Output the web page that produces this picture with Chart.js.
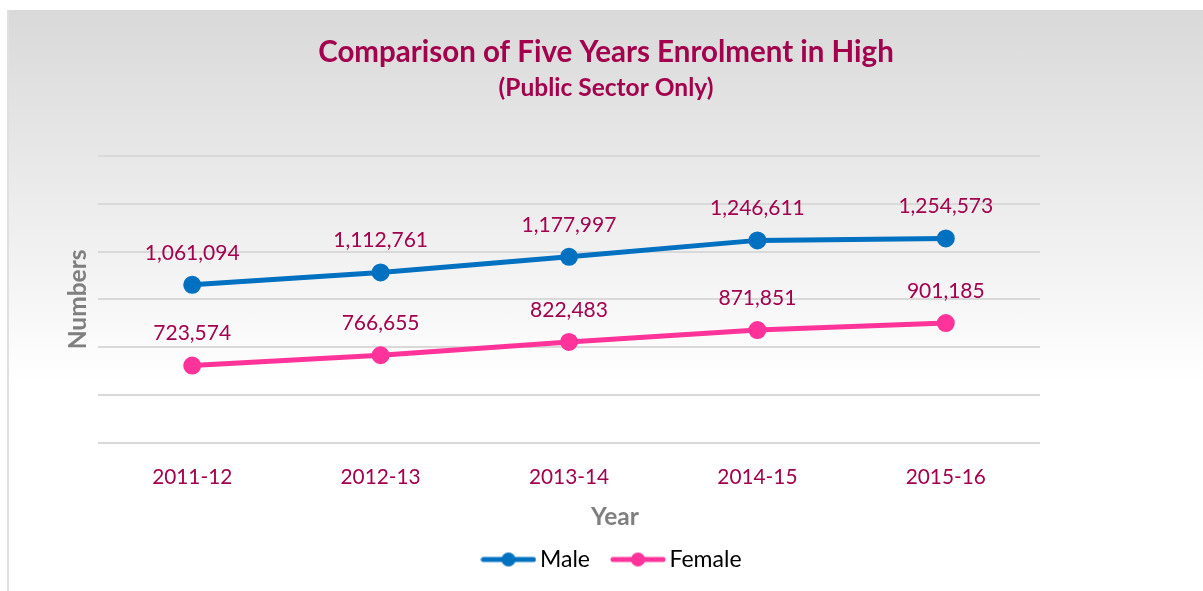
<!DOCTYPE html>
<html>
<head>
<meta charset="utf-8">
<script src="https://cdn.jsdelivr.net/npm/chart.js@4"></script>
<style>
  html, body { margin: 0; padding: 0; background: #fff; }
  #frame {
    position: absolute; left: 7px; top: 10px; width: 1196px; height: 581px;
    background: linear-gradient(to bottom, #d9d9d9 0%, #f3f3f3 45%, #ffffff 64%, #ffffff 100%);
    border-left: 2px solid #e0e0e0;
    box-sizing: border-box;
  }
  #wrap { position: absolute; left: 0; top: 0; width: 1194px; height: 581px; }
</style>
</head>
<body>
<div id="frame"><div id="wrap"><canvas id="chart"></canvas></div></div>
<script>
const years = ['2011-12', '2012-13', '2013-14', '2014-15', '2015-16'];
const male = [1061094, 1112761, 1177997, 1246611, 1254573];
const female = [723574, 766655, 822483, 871851, 901185];

const maroon = '#A3004D';
const blue = '#0070C0';
const pink = '#FF3399';

// line + dot legend marker
function legendMark(color) {
    const c = document.createElement('canvas');
    c.width = 56; c.height = 16;
    const g = c.getContext('2d');
    g.strokeStyle = color;
    g.lineWidth = 5;
    g.lineCap = 'round';
    g.beginPath();
    g.moveTo(3, 8); g.lineTo(53, 8);
    g.stroke();
    g.fillStyle = color;
    g.beginPath();
    g.arc(28, 8, 7, 0, Math.PI * 2);
    g.fill();
    return c;
}

// value labels above points
const valueLabels = {
    id: 'valueLabels',
    afterLayout(chart) {
        // nudge legend a little to the right, like the original
        chart.legend.left += 9;
        chart.legend.right += 9;
    },
    afterDatasetsDraw(chart) {
        const ctx = chart.ctx;
        ctx.save();
        ctx.font = '21px Lato';
        ctx.fillStyle = maroon;
        ctx.textAlign = 'center';
        ctx.textBaseline = 'middle';
        chart.data.datasets.forEach((ds, i) => {
            chart.getDatasetMeta(i).data.forEach((pt, j) => {
                ctx.fillText(ds.data[j].toLocaleString('en-US'), pt.x, pt.y - 32);
            });
        });
        ctx.restore();
    }
};

new Chart(document.getElementById('chart'), {
    type: 'line',
    data: {
        labels: years,
        datasets: [{
            label: 'Male',
            data: male,
            borderColor: blue,
            backgroundColor: blue,
            borderWidth: 5,
            pointRadius: 6.5,
            pointHoverRadius: 6.5,
            yAxisID: 'y'
        }, {
            label: 'Female',
            data: female,
            borderColor: pink,
            backgroundColor: pink,
            borderWidth: 5,
            pointRadius: 6.5,
            pointHoverRadius: 6.5,
            yAxisID: 'y'
        }]
    },
    options: {
        responsive: true,
        maintainAspectRatio: false,
        animation: false,
        layout: {
            padding: { left: 0, right: 0, top: 0, bottom: 10 }
        },
        plugins: {
            title: {
                display: true,
                text: 'Comparison of Five Years Enrolment in High',
                color: maroon,
                font: { family: 'Lato', size: 29.5, weight: 'bold' },
                padding: { top: 25, bottom: 0 }
            },
            subtitle: {
                display: true,
                text: '(Public Sector Only)',
                color: maroon,
                font: { family: 'Lato', size: 24.5, weight: 'bold' },
                padding: { top: 3, bottom: 53 }
            },
            legend: {
                position: 'bottom',
                title: {
                    display: true,
                    text: 'Year',
                    color: '#7f7f7f',
                    font: { family: 'Lato', size: 24.5, weight: 'bold' },
                    padding: { top: 0, bottom: -14 }
                },
                labels: {
                    usePointStyle: true,
                    pointStyleWidth: 40,
                    color: '#000',
                    font: { family: 'Lato', size: 23 },
                    padding: 28,
                    generateLabels(chart) {
                        return chart.data.datasets.map((ds, i) => ({
                            text: ds.label,
                            fontColor: '#000',
                            pointStyle: legendMark(ds.borderColor),
                            datasetIndex: i,
                            lineWidth: 0,
                            hidden: false
                        }));
                    }
                }
            },
            tooltip: { enabled: false }
        },
        scales: {
            x: {
                offset: true,
                grid: { display: false, drawTicks: false },
                border: { display: false },
                ticks: {
                    color: maroon,
                    font: { family: 'Lato', size: 20.8 },
                    padding: 22
                },
                afterFit(scale) { scale.height = 61.6; }
            },
            y: {
                min: 400000,
                max: 1600000,
                ticks: { display: false, stepSize: 200000 },
                grid: { color: '#d9d9d9', lineWidth: 2, drawTicks: false },
                border: { display: false },
                title: {
                    display: true,
                    text: 'Numbers',
                    color: '#7f7f7f',
                    font: { family: 'Lato', size: 24.5, weight: 'bold' },
                    padding: { top: 54, bottom: 0 }
                },
                afterFit(scale) { scale.width = 89; }
            },
            right: {
                position: 'right',
                display: true,
                ticks: { display: false },
                grid: { display: false, drawTicks: false },
                border: { display: false },
                afterFit(scale) { scale.width = 163; }
            }
        }
    },
    plugins: [valueLabels]
});
</script>
</body>
</html>
